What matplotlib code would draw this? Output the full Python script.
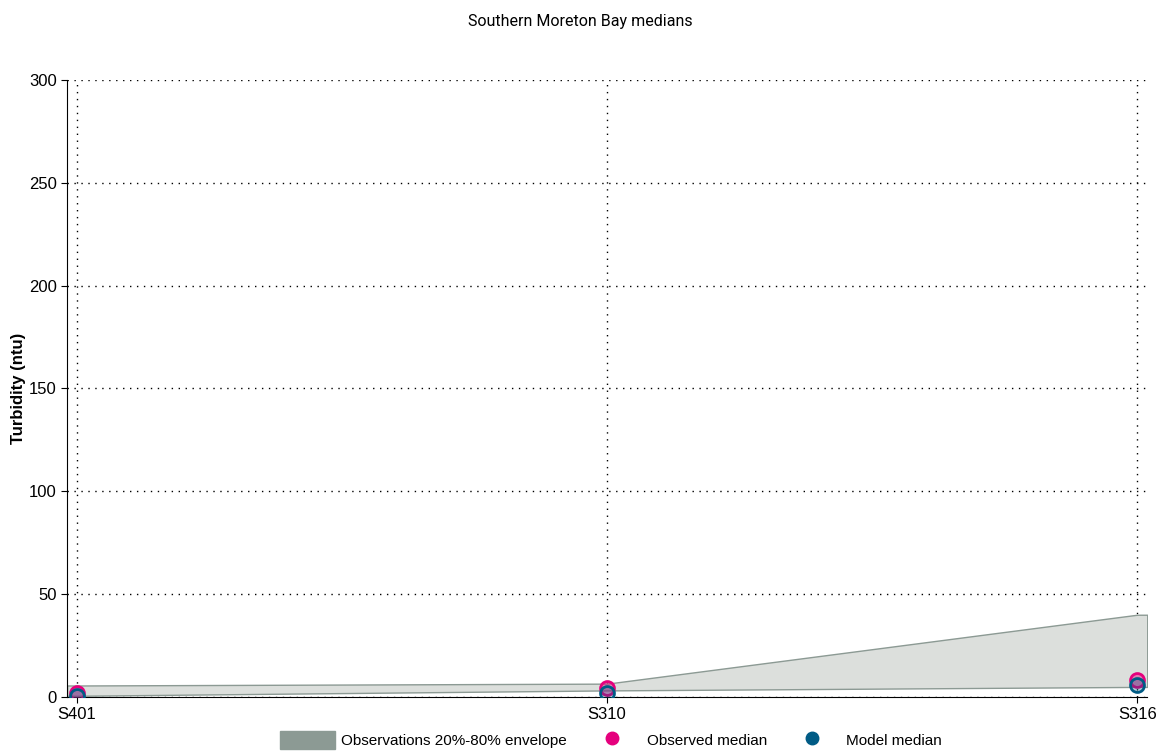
import numpy as np
import matplotlib.pyplot as plt
from matplotlib.patches import Patch
from matplotlib.lines import Line2D

plt.rcParams['font.family'] = ['Liberation Sans', 'DejaVu Sans']

sites = ['S401', 'S310', 'S316']
env_low = [0.6, 3.2, 4.9]
env_high = [5.6, 6.5, 40.0]
obs_median = [2.0, 4.3, 8.2]
model_median = [0.3, 1.8, 5.6]

fill_c = '#dcdfdc'
edge_c = '#8c9a94'
pink = '#e5007d'
blue = '#005b85'

fig = plt.figure(figsize=(11.6, 7.51), dpi=100)
ax = fig.add_axes([0.0578, 0.0719, 0.9312, 0.8216])

x = np.arange(len(sites))
pad = 0.019
xe = np.concatenate([[x[0] - pad], x, [x[-1] + pad]])
lo = np.concatenate([[env_low[0]], env_low, [env_low[-1]]])
hi = np.concatenate([[env_high[0]], env_high, [env_high[-1]]])
ax.fill_between(xe, lo, hi, facecolor=fill_c, edgecolor=edge_c, lw=1, zorder=1)

ax.scatter(x, obs_median, s=100, facecolor=(0.9, 0.0, 0.49, 0.45), edgecolor=pink, lw=2, zorder=3)
ax.scatter(x, model_median, s=100, facecolor=(0.0, 0.36, 0.52, 0.3), edgecolor=blue, lw=2, zorder=4)

ax.set_xlim(x[0] - pad, x[-1] + pad)
ax.set_ylim(0, 300)
ax.set_yticks(np.arange(0, 301, 50))
ax.set_xticks(x)
ax.set_xticklabels(sites)
ax.grid(True, ls=(0, (1, 4)), color='black', lw=1)
ax.set_axisbelow(True)
for s in ['top', 'right']:
    ax.spines[s].set_visible(False)
ax.tick_params(labelsize=12, length=4, direction='out')
ax.set_ylabel('Turbidity (ntu)', fontsize=12, fontweight='bold')
ax.yaxis.set_label_coords(-0.038, 0.5)
fig.suptitle('Southern Moreton Bay medians', fontsize=11.5, y=0.982, family=['Roboto', 'DejaVu Sans'])

handles = [Patch(facecolor=edge_c, edgecolor=edge_c),
           Line2D([], [], ls='none', marker='o', ms=9, color=pink),
           Line2D([], [], ls='none', marker='o', ms=9, color=blue)]
labels = ['Observations 20%-80% envelope', 'Observed median', 'Model median']
fig.legend(handles, labels, loc='lower left', bbox_to_anchor=(0.241, 0.002), ncol=3,
           frameon=False, fontsize=11, handlelength=3.6, handleheight=1.5,
           columnspacing=1.15, handletextpad=0.45, borderpad=0, borderaxespad=0)

fig.savefig('out.png', dpi=100)
